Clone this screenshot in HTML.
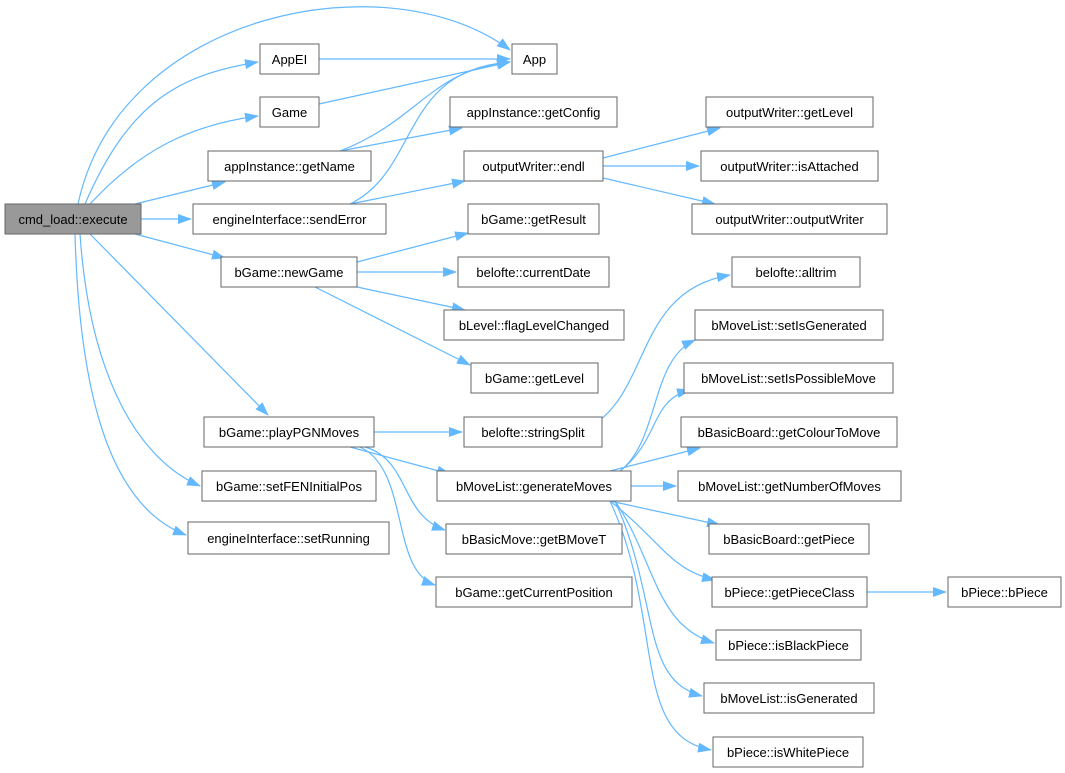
<!DOCTYPE html>
<html><head><meta charset="utf-8"><style>
html,body{margin:0;padding:0;background:#fff}
svg{display:block}
text{font-family:"Liberation Sans",sans-serif;font-size:13px;fill:#000}
</style></head><body>
<svg width="1065" height="773" viewBox="0 0 1065 773" xmlns="http://www.w3.org/2000/svg">
<defs><marker id="a" markerWidth="14" markerHeight="10" refX="13" refY="5" orient="auto" markerUnits="userSpaceOnUse"><polygon points="0,0 14,5 0,10" fill="#63b8ff"/></marker></defs>
<g fill="none" stroke="#63b8ff" stroke-width="1.2" marker-end="url(#a)">
<path d="M78,204 C120,10 390,-40 510,50"/>
<path d="M85,204 C130,100 180,75 258,62"/>
<path d="M90,204 C140,150 190,125 258,116"/>
<path d="M135,204 L225,182"/>
<path d="M141,219 L191,219"/>
<path d="M135,234 L225,258"/>
<path d="M90,234 L268,415"/>
<path d="M80,234 C90,380 140,460 200,486"/>
<path d="M75,234 C80,420 120,510 186,535"/>
<path d="M319,59 L510,59"/>
<path d="M319,104 L510,62"/>
<path d="M340,151 C420,120 430,70 510,62"/>
<path d="M340,151 L462,128"/>
<path d="M350,204 C420,170 400,70 510,62"/>
<path d="M350,204 L465,181"/>
<path d="M603,158 L720,128"/>
<path d="M603,166 L699,166"/>
<path d="M603,178 L715,204"/>
<path d="M357,262 L468,233"/>
<path d="M357,272 L456,272"/>
<path d="M357,287 L465,310"/>
<path d="M315,287 L470,365"/>
<path d="M374,432 L462,432"/>
<path d="M350,447 L450,474"/>
<path d="M365,447 C410,460 400,515 445,530"/>
<path d="M360,447 C410,470 390,570 435,585"/>
<path d="M600,420 C650,380 640,290 730,275"/>
<path d="M620,471 C660,440 650,360 695,340"/>
<path d="M620,471 C660,440 650,400 690,390"/>
<path d="M610,471 L700,448"/>
<path d="M631,486 L676,486"/>
<path d="M610,501 L720,525"/>
<path d="M610,501 C660,540 670,570 715,580"/>
<path d="M615,501 C655,560 655,625 714,643"/>
<path d="M615,501 C660,600 640,680 702,696"/>
<path d="M610,501 C665,620 630,735 711,750"/>
<path d="M867,592 L946,592"/>
</g>
<g stroke="#666" stroke-width="1" fill="#fff">
<rect x="5" y="204" width="136" height="30" fill="#999"/>
<rect x="260" y="44" width="59" height="30"/>
<rect x="512" y="44" width="45" height="30"/>
<rect x="260" y="97" width="59" height="30"/>
<rect x="208" y="151" width="163" height="30"/>
<rect x="450" y="97" width="167" height="30"/>
<rect x="193" y="204" width="193" height="30"/>
<rect x="464" y="151" width="139" height="30"/>
<rect x="706" y="97" width="167" height="30"/>
<rect x="701" y="151" width="177" height="30"/>
<rect x="692" y="204" width="195" height="30"/>
<rect x="468" y="204" width="131" height="30"/>
<rect x="221" y="257" width="136" height="30"/>
<rect x="458" y="257" width="151" height="30"/>
<rect x="444" y="310" width="180" height="30"/>
<rect x="471" y="363" width="127" height="30"/>
<rect x="732" y="257" width="128" height="30"/>
<rect x="695" y="310" width="188" height="30"/>
<rect x="684" y="363" width="209" height="30"/>
<rect x="204" y="417" width="170" height="30"/>
<rect x="464" y="417" width="138" height="30"/>
<rect x="681" y="417" width="216" height="30"/>
<rect x="202" y="471" width="174" height="30"/>
<rect x="437" y="471" width="194" height="30"/>
<rect x="678" y="471" width="223" height="30"/>
<rect x="188" y="522" width="201" height="32"/>
<rect x="446" y="524" width="176" height="30"/>
<rect x="709" y="524" width="160" height="30"/>
<rect x="436" y="577" width="196" height="30"/>
<rect x="712" y="577" width="155" height="30"/>
<rect x="948" y="577" width="113" height="30"/>
<rect x="716" y="630" width="145" height="30"/>
<rect x="704" y="683" width="170" height="30"/>
<rect x="713" y="737" width="150" height="30"/>
</g>
<g text-anchor="middle">
<text x="73" y="224">cmd_load::execute</text>
<text x="289.5" y="64">AppEI</text>
<text x="534.5" y="64">App</text>
<text x="289.5" y="117">Game</text>
<text x="289.5" y="171">appInstance::getName</text>
<text x="533.5" y="117">appInstance::getConfig</text>
<text x="289.5" y="224">engineInterface::sendError</text>
<text x="533.5" y="171">outputWriter::endl</text>
<text x="789.5" y="117">outputWriter::getLevel</text>
<text x="789.5" y="171">outputWriter::isAttached</text>
<text x="789.5" y="224">outputWriter::outputWriter</text>
<text x="533.5" y="224">bGame::getResult</text>
<text x="289" y="277">bGame::newGame</text>
<text x="533.5" y="277">belofte::currentDate</text>
<text x="534" y="330">bLevel::flagLevelChanged</text>
<text x="534.5" y="383">bGame::getLevel</text>
<text x="796" y="277">belofte::alltrim</text>
<text x="789" y="330">bMoveList::setIsGenerated</text>
<text x="788.5" y="383">bMoveList::setIsPossibleMove</text>
<text x="289" y="437">bGame::playPGNMoves</text>
<text x="533" y="437">belofte::stringSplit</text>
<text x="789" y="437">bBasicBoard::getColourToMove</text>
<text x="289" y="491">bGame::setFENInitialPos</text>
<text x="534" y="491">bMoveList::generateMoves</text>
<text x="789.5" y="491">bMoveList::getNumberOfMoves</text>
<text x="288.5" y="543">engineInterface::setRunning</text>
<text x="534" y="544">bBasicMove::getBMoveT</text>
<text x="789" y="544">bBasicBoard::getPiece</text>
<text x="534" y="597">bGame::getCurrentPosition</text>
<text x="789.5" y="597">bPiece::getPieceClass</text>
<text x="1004.5" y="597">bPiece::bPiece</text>
<text x="788.5" y="650">bPiece::isBlackPiece</text>
<text x="789" y="703">bMoveList::isGenerated</text>
<text x="788" y="757">bPiece::isWhitePiece</text>
</g>
</svg>
</body></html>
